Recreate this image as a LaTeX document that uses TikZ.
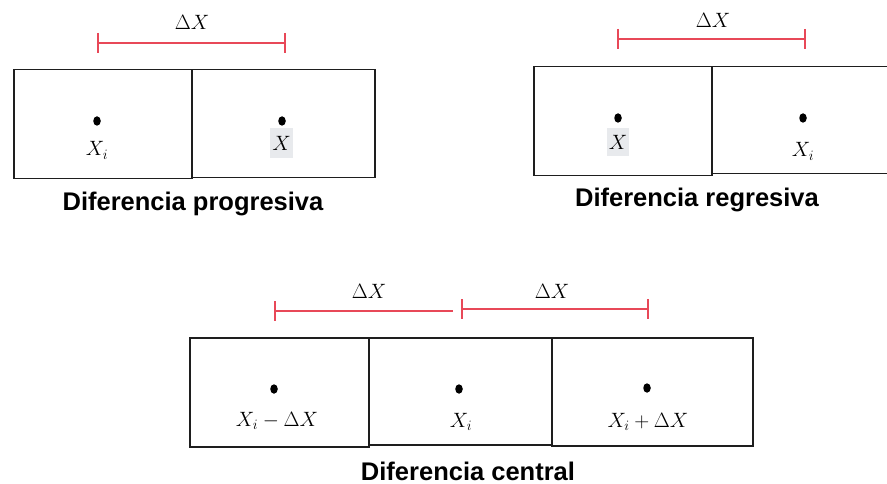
\documentclass[tikz,border=0pt]{standalone}
\usepackage{fontspec}
\setmainfont{Liberation Sans}
\usetikzlibrary{shapes.geometric}
\definecolor{redbar}{RGB}{232,72,88}
\definecolor{hl}{RGB}{232,234,237}
\definecolor{edge}{RGB}{30,30,30}
\begin{document}
\begin{tikzpicture}[x=1pt,y=-1pt,
  cell/.style={draw=edge, line width=1.5pt, anchor=north west, inner sep=0pt},
  dim/.style={draw=redbar, line width=1.4pt},
  dotmark/.style={ellipse, fill=black, inner sep=0pt, minimum width=7.5pt, minimum height=9.5pt},
  lab/.style={anchor=base, inner sep=0pt, font=\fontsize{21.5}{25}\selectfont},
  captext/.style={anchor=base, inner sep=0pt, font=\fontsize{25.5}{29}\selectfont\bfseries}]
\useasboundingbox (0,0) rectangle (887,484);

% ---------- Diferencia progresiva ----------
\node[cell, minimum width=183pt, minimum height=108pt] (pB) at (191,69) {};
\node[cell, minimum width=178pt, minimum height=109pt] (pA) at (13,69) {};
\coordinate (pl) at (98,43);
\coordinate (pr) at (285,43);
\draw[dim] (pl) -- (pr);
\draw[dim] ([yshift=10pt]pl) -- ([yshift=-10pt]pl);
\draw[dim] ([yshift=10pt]pr) -- ([yshift=-10pt]pr);
\node[lab] (pdx) at (192,30) {$\Delta X$};
\node[dotmark] (pd1) at (97,121) {};
\node[dotmark] (pd2) at (282,121) {};
\node[lab] (px1) at (97,156) {$X_i$};
\fill[hl] (270,128) rectangle (293,158);
\node[lab] (px2) at (281.5,151) {$X$};
\node[captext] (pcap) at (193,211) {Diferencia progresiva};

% ---------- Diferencia regresiva ----------
\node[cell, minimum width=179pt, minimum height=107pt] (rD) at (711,66) {};
\node[cell, minimum width=178pt, minimum height=109pt] (rC) at (533,66) {};
\coordinate (rl) at (618,39);
\coordinate (rr) at (805,39);
\draw[dim] (rl) -- (rr);
\draw[dim] ([yshift=10pt]rl) -- ([yshift=-10pt]rl);
\draw[dim] ([yshift=10pt]rr) -- ([yshift=-10pt]rr);
\node[lab] (rdx) at (713,28) {$\Delta X$};
\node[dotmark] (rd1) at (618,118) {};
\node[dotmark] (rd2) at (803,118) {};
\fill[hl] (607,128) rectangle (629,156);
\node[lab] (rx1) at (618,150) {$X$};
\node[lab] (rx2) at (803,157) {$X_i$};
\node[captext] (rcap) at (697,207) {Diferencia regresiva};

% ---------- Diferencia central ----------
\node[cell, minimum width=183pt, minimum height=107pt] (c2) at (368,337) {};
\node[cell, minimum width=201pt, minimum height=108pt] (c3) at (551,337) {};
\node[cell, minimum width=179pt, minimum height=109pt] (c1) at (189,337) {};
\coordinate (cl) at (275,311);
\coordinate (cm) at (453,311);
\coordinate (cn) at (462,309);
\coordinate (cr) at (648,309);
\draw[dim] (cl) -- (cm);
\draw[dim] ([yshift=10pt]cl) -- ([yshift=-10pt]cl);
\draw[dim] (cn) -- (cr);
\draw[dim] ([yshift=10pt]cn) -- ([yshift=-10pt]cn);
\draw[dim] ([yshift=10pt]cr) -- ([yshift=-10pt]cr);
\node[lab] (cdx1) at (369,298) {$\Delta X$};
\node[lab] (cdx2) at (552,298) {$\Delta X$};
\node[dotmark] (cd1) at (274,389) {};
\node[dotmark] (cd2) at (459,389) {};
\node[dotmark] (cd3) at (647,388) {};
\node[lab] (cx1) at (277,426) {$X_i-\Delta X$};
\node[lab] (cx2) at (461,427) {$X_i$};
\node[lab] (cx3) at (648,427) {$X_i+\Delta X$};
\node[captext] (ccap) at (468,480) {Diferencia central};
\end{tikzpicture}
\end{document}
